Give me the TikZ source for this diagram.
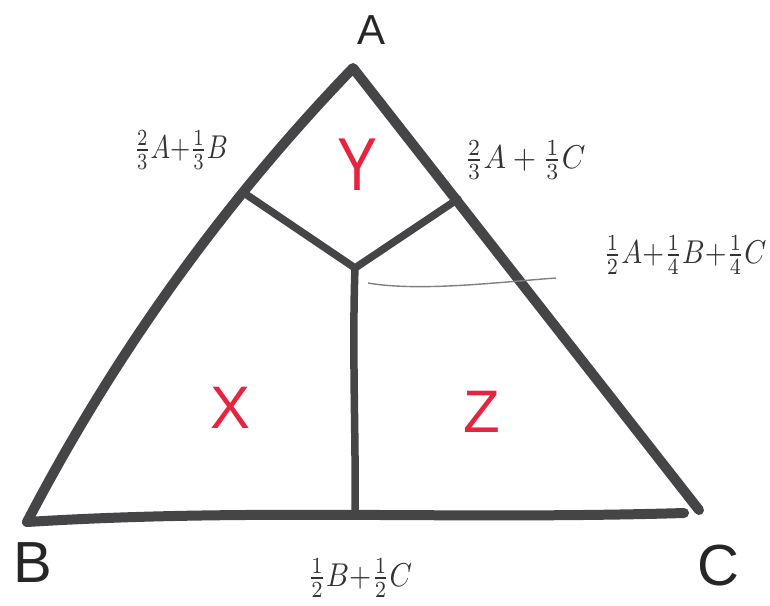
\documentclass[tikz,border=0pt]{standalone}
\usepackage{fontspec}
\usepackage{graphicx}
\setsansfont{Liberation Sans}
\definecolor{inkred}{HTML}{E8233F}
\definecolor{ink}{HTML}{454548}
\begin{document}
\begin{tikzpicture}[x=1pt,y=-1pt,
  tri/.style={line width=10pt,draw=ink,line cap=round,line join=round},
  inner/.style={line width=7.5pt,draw=ink,line cap=round,line join=round},
  thin/.style={line width=1.4pt,draw=black!50},
  vlabel/.style={font=\fontsize{58}{58}\selectfont\sffamily,text=black!85},
  flabel/.style={text=black!80,inner sep=0pt},
  region/.style={font=\fontsize{60}{60}\selectfont\sffamily,text=inkred}]
\useasboundingbox (0,0) rectangle (770,605);
\coordinate (A) at (353,68);
\coordinate (B) at (27,522);
\coordinate (C) at (699,510);
\coordinate (Cb) at (684,513);
\coordinate (P) at (247,195);
\coordinate (Q) at (458,199);
\coordinate (M) at (355,268);
\coordinate (D) at (355,515);
\coordinate (T1) at (368,283);
\coordinate (T2) at (556,278);
\draw[tri] (B) .. controls (114,355) and (222,204) .. (A) -- (C);
\draw[tri] (B) .. controls (250,508) and (450,520) .. (Cb);
\draw[inner] (P) -- (M) -- (Q);
\draw[inner] (M) .. controls (352,350) and (356,440) .. (D);
\draw[thin] (T1) .. controls (420,292) and (500,282) .. (T2);
\node[vlabel,font=\fontsize{42}{42}\selectfont\sffamily] (la) at (372,30) {A};
\node[vlabel] (lb) at (33,563) {B};
\node[vlabel] (lc) at (718,566) {C};
\node[region,yscale=1.25] (ry) at (358,165) {Y};
\node[region] (rx) at (231,408) {X};
\node[region] (rz) at (482,412) {Z};
\node[flabel] (lab) at (181,150) {\scalebox{2.6}[3.3]{$\frac{2}{3}A{+}\frac{1}{3}B$}};
\node[flabel] (lac) at (525,160) {\scalebox{3.0}[3.3]{$\frac{2}{3}A+\frac{1}{3}C$}};
\node[flabel] (labc) at (685,255) {\scalebox{2.8}[3.3]{$\frac{1}{2}A{+}\frac{1}{4}B{+}\frac{1}{4}C$}};
\node[flabel] (lbc) at (360,578) {\scalebox{2.85}[3.3]{$\frac{1}{2}B{+}\frac{1}{2}C$}};
\end{tikzpicture}
\end{document}
